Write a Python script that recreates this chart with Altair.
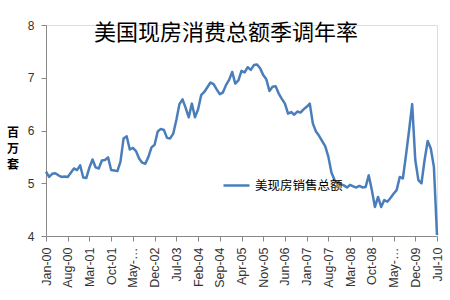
import altair as alt
import pandas as pd

# Monthly values Jan-2000 .. Jul-2010 (millions, SAAR)
values = [
    5.22, 5.12, 5.18, 5.19, 5.15, 5.12, 5.13, 5.12, 5.20, 5.28,
    5.25, 5.34, 5.11, 5.10, 5.30, 5.45, 5.30, 5.28, 5.43, 5.44,
    5.49, 5.25, 5.24, 5.23, 5.41, 5.85, 5.89, 5.64, 5.67, 5.61,
    5.47, 5.39, 5.37, 5.50, 5.68, 5.73, 5.98, 6.03, 6.01, 5.86,
    5.85, 5.94, 6.20, 6.50, 6.59, 6.43, 6.25, 6.51, 6.25, 6.40,
    6.67, 6.73, 6.82, 6.91, 6.88, 6.78, 6.69, 6.72, 6.86, 6.96,
    7.11, 6.89, 6.95, 7.13, 7.10, 7.20, 7.15, 7.24, 7.25, 7.18,
    7.05, 6.97, 6.75, 6.83, 6.84, 6.70, 6.60, 6.51, 6.32, 6.35,
    6.30, 6.36, 6.34, 6.40, 6.45, 6.51, 6.13, 5.98, 5.90, 5.80,
    5.70, 5.50, 5.20, 5.06, 5.01, 4.98, 4.96, 4.92, 4.97, 4.94,
    4.92, 4.95, 4.92, 4.93, 5.15, 4.87, 4.55, 4.74, 4.55, 4.68,
    4.65, 4.72, 4.80, 4.87, 5.12, 5.09, 5.53, 6.00, 6.50, 5.44,
    5.06, 5.00, 5.44, 5.80, 5.66, 5.31, 4.02,
]
months = list(range(len(values)))

tick_labels = [
    "Jan-00", "Aug-00", "Mar-01", "Oct-01", "May-…", "Dec-02", "Jul-03",
    "Feb-04", "Sep-04", "Apr-05", "Nov-05", "Jun-06", "Jan-07", "Aug-07",
    "Mar-08", "Oct-08", "May-…", "Dec-09", "Jul-10",
]
tick_step = 7
y_ticks = [4, 5, 6, 7, 8]

series_name = "美现房销售总额"
title_text = "美国现房消费总额季调年率"
y_title = "百万套"

df = pd.DataFrame({"m": months, "v": values, "s": series_name})

label_arr = "[" + ",".join("'" + t + "'" for t in tick_labels) + "]"

W, H = 391, 211
CJK = "Noto Sans CJK SC"
LAT = "Liberation Sans"

line = alt.Chart(df).mark_line(strokeWidth=2.5, strokeJoin="round").encode(
    x=alt.X(
        "m:Q",
        scale=alt.Scale(domain=[0, len(values) - 1], nice=False, zero=False),
        axis=alt.Axis(
            values=list(range(0, len(values), tick_step)),
            labelExpr=label_arr + "[round(datum.value/" + str(tick_step) + ")]",
            labelAngle=-90,
            labelAlign="right",
            labelBaseline="middle",
            labelFont=LAT,
            labelFontSize=12.5,
            labelColor="#333333",
            labelPadding=6,
            domainColor="#888888",
            tickColor="#888888",
            tickSize=5,
            grid=False,
            title=None,
        ),
    ),
    y=alt.Y(
        "v:Q",
        scale=alt.Scale(domain=[4, 8], nice=False, zero=False),
        axis=alt.Axis(
            values=y_ticks,
            labelFont=LAT,
            labelFontSize=12,
            labelColor="#333333",
            labelPadding=7,
            domainColor="#888888",
            tickColor="#888888",
            tickSize=5,
            grid=False,
            title=None,
        ),
    ),
    color=alt.Color(
        "s:N",
        scale=alt.Scale(range=["#4a7ebb"]),
        legend=alt.Legend(
            title=None,
            orient="none",
            legendX=176,
            legendY=146,
            symbolType="stroke",
            symbolStrokeWidth=2.5,
            symbolSize=676,
            labelFont=CJK,
            labelFontSize=12.5,
            labelColor="#000000",
            labelOffset=4,
            padding=0,
        ),
    ),
)

title_df = pd.DataFrame({"t": [title_text]})
title_mark = alt.Chart(title_df).mark_text(
    font=CJK, fontSize=22, color="#000000", align="center", baseline="middle"
).encode(text="t:N", x=alt.value(180), y=alt.value(8))

ytitle_df = pd.DataFrame({"t": [list(y_title)]})
ytitle_mark = alt.Chart(ytitle_df).mark_text(
    font=CJK, fontSize=12, fontWeight="bold", color="#000000",
    align="center", baseline="middle", lineHeight=16,
).encode(text="t", x=alt.value(-33), y=alt.value(108))

chart = (
    alt.layer(line, title_mark, ytitle_mark)
    .properties(
        width=W,
        height=H,
        autosize=alt.AutoSizeParams(type="none"),
        padding={"left": 46, "top": 25, "right": 13, "bottom": 64},
    )
    .configure_view(stroke=None)
    .configure(background="white")
)

chart.save("out.html", embed_options={"renderer": "svg", "actions": False})
